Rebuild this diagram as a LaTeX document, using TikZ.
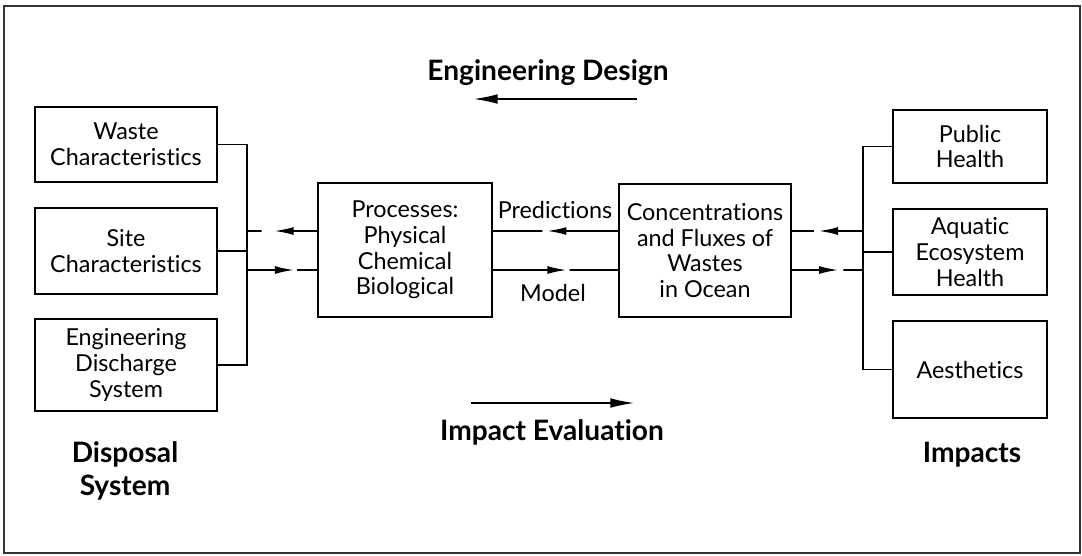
\documentclass[tikz,border=0pt]{standalone}
\usepackage{fontspec}
\setmainfont{Lato}[Ligatures=NoCommon]
\usetikzlibrary{arrows.meta,calc}

\begin{document}
\begin{tikzpicture}[
    x=0.02cm, y=-0.02cm,
    box/.style={rectangle, draw, line width=1.4pt, align=center, inner sep=2pt, font=\fontsize{13.3}{14.6}\selectfont},
    leftbox/.style={box, minimum width=3.64cm},
    rightbox/.style={box, minimum width=3.08cm},
    link/.style={line width=1pt},
    arrow/.style={link, -{Latex[length=11pt,width=4.5pt]}},
    bigarrow/.style={line width=1.2pt, -{Latex[length=14pt,width=5.5pt]}},
    heading/.style={font=\fontsize{16}{18.7}\selectfont\bfseries, align=center},
    flowtext/.style={font=\fontsize{13.3}{14.6}\selectfont}
]
    \useasboundingbox (0,0) rectangle (1082,555);
    \draw[line width=0.8pt, black!80] (4,6) rectangle (1080,553);

    % Disposal system
    \node[leftbox, minimum height=1.5cm] (waste) at (126,144.5) {Waste\\Characteristics};
    \node[leftbox, minimum height=1.72cm] (site) at (126,251) {Site\\Characteristics};
    \node[leftbox, minimum height=1.84cm] (engds) at (126,365) {Engineering\\Discharge\\System};

    % Middle
    \node[box, minimum width=3.48cm, minimum height=2.68cm] (proc) at (405,250) {Processes:\\Physical\\Chemical\\Biological};
    \node[box, minimum width=3.44cm, minimum height=2.66cm] (conc) at (705,250.5) {Concentrations\\and Fluxes of\\Wastes\\in Ocean};

    % Impacts
    \node[rightbox, minimum height=1.46cm] (public) at (970,146.5) {Public\\Health};
    \node[rightbox, minimum height=1.72cm] (aquatic) at (970,252) {Aquatic\\Ecosystem\\Health};
    \node[rightbox, minimum height=1.94cm] (aesth) at (970,369.5) {Aesthetics};

    \coordinate (lbus) at (247,0);
    \coordinate (rbus) at (863,0);
    \coordinate (up) at (0,231);
    \coordinate (dn) at (0,270);

    % Bus lines
    \draw[link] (waste.east) -- (waste.east -| lbus) -- (engds.east -| lbus) -- (engds.east);
    \draw[link] (site.east) -- (site.east -| lbus);
    \draw[link] (public.west) -- (public.west -| rbus) -- (aesth.west -| rbus) -- (aesth.west);
    \draw[link] (aquatic.west) -- (aquatic.west -| rbus);

    % Arrows with a gap behind the tip
    \foreach \a/\b/\t/\r in {proc.west/lbus/0.61/0.79, conc.west/proc.east/0.567/0.606, rbus/conc.east/0.625/0.694} {
        \draw[arrow] (\a |- up) -- ($(\a |- up)!\t!(\b |- up)$);
        \draw[link] ($(\a |- up)!\r!(\b |- up)$) -- (\b |- up);
    }
    \foreach \a/\b/\t/\r in {lbus/proc.west/0.676/0.718, proc.east/conc.west/0.59/0.614, conc.east/rbus/0.653/0.722} {
        \draw[arrow] (\a |- dn) -- ($(\a |- dn)!\t!(\b |- dn)$);
        \draw[link] ($(\a |- dn)!\r!(\b |- dn)$) -- (\b |- dn);
    }

    \node[flowtext] (pred) at (555,210) {Predictions};
    \node[flowtext] (model) at (553,293) {Model};

    % Headings
    \node[heading, anchor=base] (design) at (548,80) {Engineering Design};
    \coordinate (designR) at (637,99);
    \coordinate (designL) at (473,99);
    \draw[bigarrow] (designR) -- (designL);

    \node[heading, anchor=base] (impact) at (552,440) {Impact Evaluation};
    \coordinate (impactL) at (471,403);
    \coordinate (impactR) at (635,403);
    \draw[bigarrow] (impactL) -- (impactR);

    \node[heading, anchor=base] (disposal) at (125,495) {Disposal\\System};
    \node[heading, anchor=base] (impacts) at (972,462) {Impacts};
\end{tikzpicture}
\end{document}
